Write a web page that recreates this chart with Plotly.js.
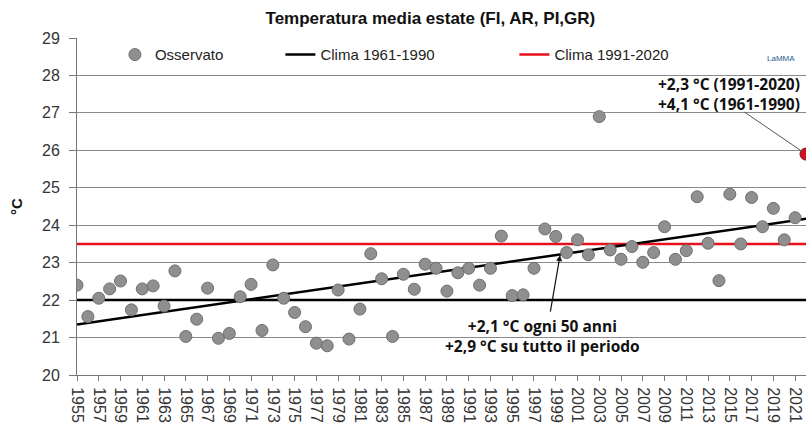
<!DOCTYPE html>
<html>
<head>
<meta charset="utf-8">
<script src="https://cdn.plot.ly/plotly-3.0.1.min.js"></script>
<style>
  html, body { margin: 0; padding: 0; background: #fff; }
  #chart { width: 806px; height: 424px; }
</style>
</head>
<body>
<div id="chart"></div>
<script>
// anni e temperature osservate (estate)
var years = [1955, 1956, 1957, 1958, 1959, 1960, 1961, 1962, 1963, 1964,
  1965, 1966, 1967, 1968, 1969, 1970, 1971, 1972, 1973, 1974,
  1975, 1976, 1977, 1978, 1979, 1980, 1981, 1982, 1983, 1984,
  1985, 1986, 1987, 1988, 1989, 1990, 1991, 1992, 1993, 1994,
  1995, 1996, 1997, 1998, 1999, 2000, 2001, 2002, 2003, 2004,
  2005, 2006, 2007, 2008, 2009, 2010, 2011, 2012, 2013, 2014,
  2015, 2016, 2017, 2018, 2019, 2020, 2021];
var temps = [22.40, 21.56, 22.05, 22.30, 22.51, 21.74, 22.30, 22.38, 21.84, 22.78,
  21.03, 21.49, 22.32, 20.98, 21.11, 22.09, 22.42, 21.19, 22.94, 22.05,
  21.67, 21.29, 20.85, 20.78, 22.27, 20.96, 21.76, 23.24, 22.57, 21.03,
  22.69, 22.29, 22.96, 22.85, 22.24, 22.73, 22.85, 22.40, 22.85, 23.71,
  22.12, 22.14, 22.85, 23.90, 23.70, 23.27, 23.61, 23.21, 26.90, 23.34,
  23.09, 23.43, 23.01, 23.27, 23.96, 23.09, 23.32, 24.76, 23.52, 22.52,
  24.83, 23.50, 24.74, 23.96, 24.45, 23.61, 24.20];

var lastYear = [2022];
var lastTemp = [25.9];

var climaX = [1955, 2022];
var clima6190 = [22.0, 22.0];
var clima9120 = [23.5, 23.5];

var trendX = [1955, 2022];
var trendY = [21.35, 24.17];

var tickYears = [];
for (var yy = 1955; yy <= 2021; yy += 2) tickYears.push(yy);

var font = 'Liberation Sans, Arial, sans-serif';
var boldFont = 'Open Sans, Liberation Sans, sans-serif';

var data = [
  {
    x: climaX, y: clima6190, type: 'scatter', mode: 'lines',
    name: 'Clima 1961-1990', legend: 'legend2',
    line: { color: '#000000', width: 2.5 }
  },
  {
    x: climaX, y: clima9120, type: 'scatter', mode: 'lines',
    name: 'Clima 1991-2020', legend: 'legend3',
    line: { color: '#e8101c', width: 2.5 }
  },
  {
    x: trendX, y: trendY, type: 'scatter', mode: 'lines',
    showlegend: false, hoverinfo: 'skip',
    line: { color: '#000000', width: 2.5 }
  },
  {
    x: years, y: temps, type: 'scatter', mode: 'markers',
    name: 'Osservato', legend: 'legend',
    marker: { color: '#8f8f8f', size: 12, line: { color: '#6e6e6e', width: 1 } }
  },
  {
    x: lastYear, y: lastTemp, type: 'scatter', mode: 'markers',
    showlegend: false, cliponaxis: false,
    marker: { color: '#d40f1f', size: 12, line: { color: '#8a0a14', width: 1 } }
  }
];

var legendFont = { family: font, size: 15, color: '#222' };

var layout = {
  width: 806,
  height: 424,
  margin: { l: 77, r: 0, t: 38, b: 49 },
  paper_bgcolor: '#ffffff',
  plot_bgcolor: '#ffffff',
  showlegend: true,
  title: {
    text: '<b>Temperatura media estate (FI, AR, PI,GR)</b>',
    font: { family: font, size: 17, color: '#111' },
    x: 0.534, xanchor: 'center',
    y: 0.958, yanchor: 'middle'
  },
  legend: {
    x: 0.052, y: 0.95, xanchor: 'left', yanchor: 'middle',
    bgcolor: 'rgba(0,0,0,0)', font: legendFont, itemwidth: 30
  },
  legend2: {
    x: 0.279, y: 0.95, xanchor: 'left', yanchor: 'middle',
    bgcolor: 'rgba(0,0,0,0)', font: legendFont, itemwidth: 30
  },
  legend3: {
    x: 0.6, y: 0.95, xanchor: 'left', yanchor: 'middle',
    bgcolor: 'rgba(0,0,0,0)', font: legendFont, itemwidth: 30
  },
  xaxis: {
    range: [1955, 2022],
    tickmode: 'array',
    tickvals: tickYears,
    ticktext: tickYears.map(String),
    tickangle: 90,
    ticks: 'outside', ticklen: 5, tickcolor: '#777',
    ticklabelstandoff: 3,
    showgrid: false,
    showline: true, linecolor: '#777', linewidth: 1,
    zeroline: false,
    tickfont: { family: font, size: 16, color: '#333' },
    fixedrange: true
  },
  yaxis: {
    range: [20, 29],
    dtick: 1,
    ticks: 'outside', ticklen: 7, tickcolor: '#777',
    ticklabelstandoff: 6,
    showgrid: true, gridcolor: '#8a8a8a', gridwidth: 1,
    showline: true, linecolor: '#777', linewidth: 1,
    zeroline: false,
    tickfont: { family: font, size: 16, color: '#333' },
    title: { text: '<b>°C</b>', font: { family: font, size: 15, color: '#111' }, standoff: 15 },
    fixedrange: true
  },
  annotations: [
    {
      xref: 'paper', yref: 'paper', x: 0.9945, y: 0.834,
      xanchor: 'right', yanchor: 'middle', showarrow: false, align: 'right',
      text: '<b>+2,3 °C (1991-2020)<br>+4,1 °C (1961-1990)</b>',
      font: { family: boldFont, size: 15.5, color: '#111' }
    },
    {
      x: 2022, y: 25.9, xref: 'x', yref: 'y', text: '',
      showarrow: true, arrowhead: 0, arrowwidth: 1, arrowcolor: '#555',
      ax: -63, ay: -43, standoff: 4
    },
    {
      xref: 'x', yref: 'paper', x: 1997.8, y: 0.116, xanchor: 'center', yanchor: 'middle',
      showarrow: false, align: 'center',
      text: '<b>+2,1 °C ogni 50 anni<br>+2,9 °C su tutto il periodo</b>',
      font: { family: boldFont, size: 15.5, color: '#111' }
    },
    {
      x: 1999.4, y: 23.2, xref: 'x', yref: 'y', text: '',
      showarrow: true, arrowhead: 2, arrowsize: 1, arrowwidth: 1.2, arrowcolor: '#111',
      ax: -10, ay: 58
    },
    {
      xref: 'paper', yref: 'paper', x: 0.988, y: 0.94, xanchor: 'right', yanchor: 'middle',
      showarrow: false, text: 'LaMMA',
      font: { family: font, size: 8, color: '#2d5d8c' }
    }
  ]
};

Plotly.newPlot('chart', data, layout, { displayModeBar: false, staticPlot: true });
</script>
</body>
</html>
